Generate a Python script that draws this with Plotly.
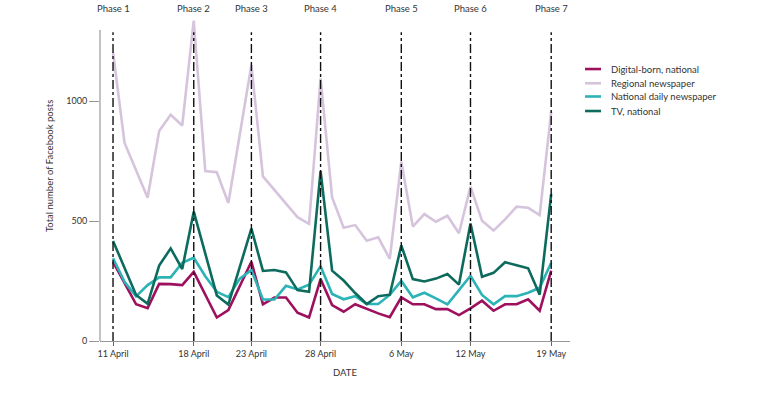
import plotly.graph_objects as go

# Day index 0 = 11 April ... 38 = 19 May
days = list(range(39))

digital_born = [330, 242, 153, 137, 238, 237, 233, 288, 193, 98, 129, 230, 330, 153, 181, 181, 118, 98,
                258, 150, 122, 153, 133, 115, 99, 182, 153, 153, 133, 133, 108, 136, 168, 126, 153, 153,
                174, 126, 293]
regional = [1203, 825, 712, 597, 875, 943, 898, 1335, 708, 703, 575, 860, 1150, 686, 630, 574, 516, 488,
            1094, 598, 472, 483, 418, 432, 342, 747, 477, 529, 497, 522, 449, 643, 501, 460, 507, 560,
            555, 525, 955]
national_daily = [345, 247, 186, 233, 265, 265, 326, 347, 270, 205, 183, 260, 296, 173, 173, 230, 215, 235,
                  312, 196, 174, 187, 154, 154, 192, 250, 182, 201, 178, 153, 212, 272, 192, 153, 187, 187,
                  201, 222, 326]
tv_national = [417, 305, 192, 155, 314, 386, 300, 539, 365, 190, 152, 310, 468, 292, 296, 286, 212, 205,
               708, 293, 252, 200, 154, 187, 193, 398, 258, 248, 260, 279, 235, 490, 268, 284, 328, 316,
               303, 193, 612]

series_names = ["Digital-born, national", "Regional newspaper", "National daily newspaper", "TV, national"]
series_values = [digital_born, regional, national_daily, tv_national]
series_colors = ["#9E0F5E", "#D6C4DD", "#2BB3B6", "#0C6B5D"]

phase_days = [0, 7, 12, 18, 25, 31, 38]
phase_labels = ["Phase 1", "Phase 2", "Phase 3", "Phase 4", "Phase 5", "Phase 6", "Phase 7"]
tick_labels = ["11 April", "18 April", "23 April", "28 April", "6 May", "12 May", "19 May"]
y_ticks = [0, 500, 1000]

FONT = "Lato"
TXT = "#333333"

fig = go.Figure()
for name, vals, col in zip(series_names, series_values, series_colors):
    fig.add_trace(go.Scatter(x=days, y=vals, mode="lines", name=name,
                             line=dict(color=col, width=2.6), showlegend=False))

shapes = []
annotations = []
# phase lines
for d, lab in zip(phase_days, phase_labels):
    shapes.append(dict(type="line", xref="x", yref="y", x0=d, x1=d, y0=0, y1=1287,
                       line=dict(color="#111111", width=1.4, dash="dashdot"), layer="above"))
    annotations.append(dict(x=d, xref="x", y=1.028, yref="paper", text=lab, showarrow=False,
                            xanchor="center", yanchor="middle", font=dict(family=FONT, size=9.5, color=TXT)))
# y axis line
shapes.append(dict(type="line", xref="paper", yref="y", x0=0, x1=0, y0=0, y1=1296,
                   line=dict(color="#999999", width=1.2), layer="below"))

# manual legend
leg_y = [0.842, 0.798, 0.757, 0.712]
for name, col, yy in zip(series_names, series_colors, leg_y):
    shapes.append(dict(type="line", xref="paper", yref="paper", x0=1.032, x1=1.066, y0=yy, y1=yy,
                       line=dict(color=col, width=2.6)))
    annotations.append(dict(x=1.083, xref="paper", y=yy, yref="paper", text=name, showarrow=False,
                            xanchor="left", yanchor="middle", font=dict(family=FONT, size=9.5, color=TXT)))

annotations.append(dict(x=-0.106, xref="paper", y=0.542, yref="paper", text="Total number of Facebook posts",
                        textangle=-90, showarrow=False, xanchor="center", yanchor="middle",
                        font=dict(family=FONT, size=9.5, color=TXT)))
annotations.append(dict(x=0.521, xref="paper", y=-0.099, yref="paper", text="DATE", showarrow=False,
                        xanchor="center", yanchor="middle", font=dict(family=FONT, size=9.5, color=TXT)))

fig.update_layout(
    width=768, height=416,
    margin=dict(l=100, r=198, t=18, b=75),
    paper_bgcolor="white", plot_bgcolor="white",
    font=dict(family=FONT, size=9, color=TXT),
    shapes=shapes, annotations=annotations,
    hovermode=False,
    xaxis=dict(range=[-1.13, 39.63], tickvals=phase_days, ticktext=tick_labels,
               showgrid=False, zeroline=False, showline=True, linecolor="#999999", linewidth=1.2,
               ticks="outside", ticklen=4, tickcolor="#666666", tickfont=dict(family=FONT, size=9, color=TXT)),
    yaxis=dict(range=[0, 1346], tickvals=y_ticks, showgrid=False, zeroline=False, showline=False,
               ticks="outside", ticklen=10, tickcolor="#999999", tickfont=dict(family=FONT, size=9, color=TXT)),
)

fig.write_html("out.html", config={"displayModeBar": False},
               post_script="document.body.style.margin='0';")
